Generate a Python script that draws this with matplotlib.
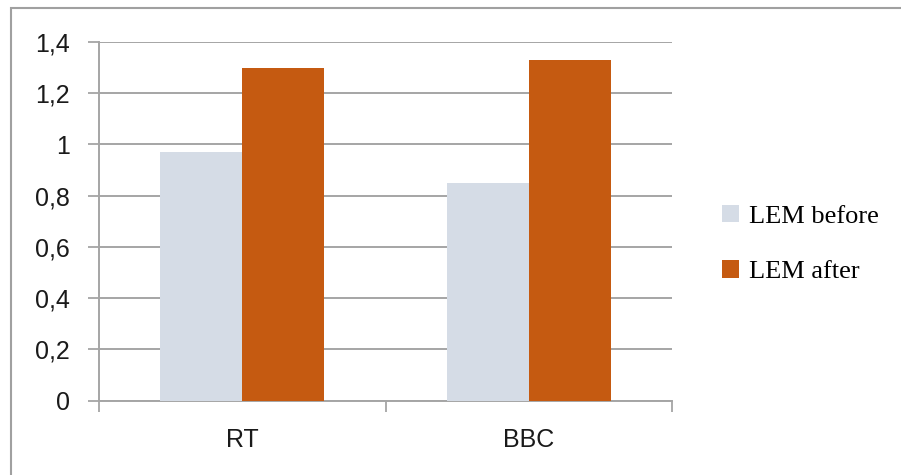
import numpy as np
import matplotlib.pyplot as plt
from matplotlib.patches import Rectangle

# data
categories = ["RT", "BBC"]
lem_before = [0.97, 0.85]
lem_after = [1.30, 1.33]
series_names = ["LEM before", "LEM after"]
y_ticks = [0, 0.2, 0.4, 0.6, 0.8, 1.0, 1.2, 1.4]
y_tick_labels = ["0", "0,2", "0,4", "0,6", "0,8", "1", "1,2", "1,4"]

c_before = "#D5DCE6"
c_after = "#C55A11"
grid_c = "#A5A5A5"

W, H = 901, 475
fig = plt.figure(figsize=(W / 100, H / 100), dpi=100)
ax = fig.add_axes([99 / W, (H - 400.5) / H, (672 - 99) / W, (400.5 - 42) / H])

x = np.arange(len(categories))
bw = 0.287
ax.bar(x - bw / 2, lem_before, bw, color=c_before, label=series_names[0], zorder=3)
ax.bar(x + bw / 2, lem_after, bw, color=c_after, label=series_names[1], zorder=3)

ax.set_xlim(-0.5, len(categories) - 0.5)
ax.set_ylim(0, 1.4)
ax.set_yticks(y_ticks)
ax.set_yticklabels(y_tick_labels, family="Liberation Sans", fontsize=18, color="#1a1a1a")
ax.yaxis.grid(True, color=grid_c, linewidth=1.4, zorder=0)
ax.set_axisbelow(True)

ax.set_xticks(x)
ax.set_xticklabels(categories, family="Liberation Sans", fontsize=18, color="#1a1a1a")
ax.tick_params(axis="x", which="major", length=0, pad=20)
ax.set_xticks(np.arange(-0.5, len(categories), 1.0), minor=True)
ax.tick_params(axis="x", which="minor", length=8, width=1.3, color=grid_c, direction="out")
ax.tick_params(axis="y", length=8, width=1.3, color=grid_c, direction="out", pad=13)

for s in ["top", "right"]:
    ax.spines[s].set_visible(False)
for s in ["left", "bottom"]:
    ax.spines[s].set_color(grid_c)
    ax.spines[s].set_linewidth(1.4)

fig.legend(loc="center left", bbox_to_anchor=(722 / W, (H - 244) / H),
           frameon=False, prop={"family": "Liberation Serif", "size": 19},
           handlelength=0.64, handleheight=0.64, handletextpad=0.4,
           labelspacing=1.25, borderpad=0, borderaxespad=0)

# outer chart border, runs past the right and bottom edges
fig.patches.append(Rectangle((11 / W, -0.1), 1.2, (H - 8) / H + 0.1,
                             transform=fig.transFigure, fill=False,
                             edgecolor="#A0A0A0", linewidth=1.5))

fig.savefig("out.png", dpi=100)
